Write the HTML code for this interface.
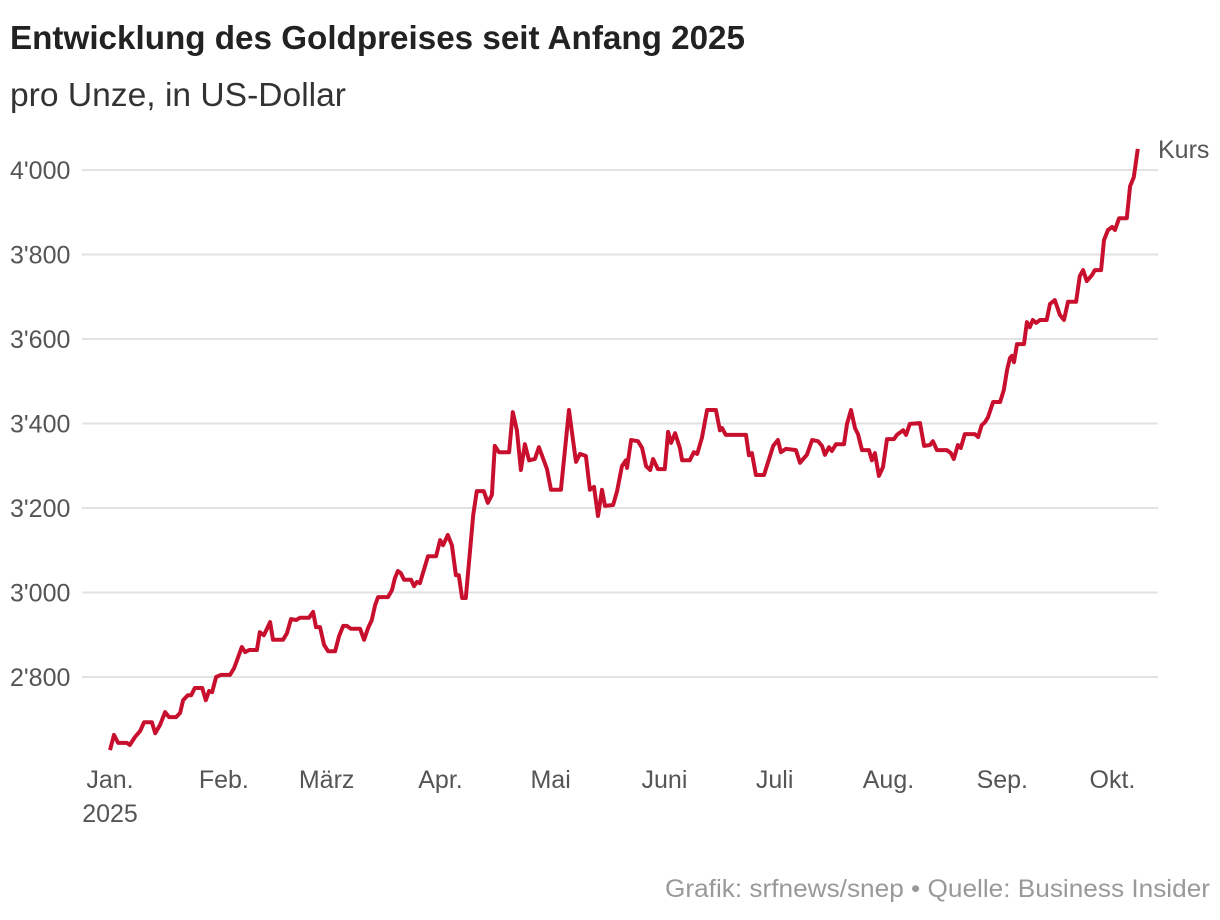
<!DOCTYPE html>
<html><head><meta charset="utf-8"><style>
body{margin:0;background:#fff;font-family:"Liberation Sans",sans-serif;}
svg{display:block}
</style></head><body>
<svg width="1220" height="920" id="chart">
<text x="10" y="49" font-size="33" font-weight="bold" fill="#222" textLength="735" lengthAdjust="spacingAndGlyphs">Entwicklung des Goldpreises seit Anfang 2025</text>
<text x="10" y="106" font-size="33" fill="#333" textLength="336" lengthAdjust="spacingAndGlyphs">pro Unze, in US-Dollar</text>
<g id="grid"></g><g id="ylabels"></g><g id="xlabels"></g>
<path id="line" fill="none" stroke="#c8102e" stroke-width="4" stroke-linejoin="round"/>
<text x="1158" y="158" font-size="25" fill="#555">Kurs</text>
<text x="1210" y="897" font-size="25" fill="#999" text-anchor="end" textLength="545" lengthAdjust="spacingAndGlyphs">Grafik: srfnews/snep • Quelle: Business Insider</text>
</svg>
<script>
const yTicks=[2800,3000,3200,3400,3600,3800,4000];
const yTickLabels=["2'800","3'000","3'200","3'400","3'600","3'800","4'000"];
const monthDays=[0,31,59,90,120,151,181,212,243,273];
const monthLabels=["Jan.","Feb.","März","Apr.","Mai","Juni","Juli","Aug.","Sep.","Okt."];
const days=[0,1.1,2.2,4.6,5.4,6.8,8.2,9.3,11.4,12.3,13.6,15.0,16.1,18.0,19.1,19.9,21.2,22.1,23.1,25.1,26.1,27.0,27.8,28.9,30.2,32.7,33.8,34.6,35.9,36.8,37.9,40.0,40.8,41.9,43.6,44.4,47.1,48.2,49.3,50.7,51.7,54.2,55.3,56.1,57.2,58.3,59.4,61.3,62.4,63.5,64.5,65.6,68.1,69.2,70.3,71.3,72.2,73.0,75.7,76.8,77.6,78.4,79.2,80.1,82.0,82.8,83.6,84.4,85.8,86.6,88.8,89.9,90.7,92.0,93.1,94.2,95.0,95.9,96.9,98.9,99.9,101.8,102.9,104.0,104.8,105.9,108.7,109.7,110.8,111.9,113.0,114.1,115.7,116.8,119.0,120.1,122.8,125.0,126.1,126.9,128.0,129.6,130.7,131.8,132.9,134.0,134.8,137.0,138.1,139.4,140.5,140.8,141.9,143.8,144.9,146.0,147.1,147.9,149.2,151.1,152.0,152.8,153.9,155.2,155.8,157.9,159.0,159.9,161.2,162.6,165.0,166.1,166.7,167.7,170.5,173.2,174.0,174.8,175.9,178.1,180.6,181.9,182.7,184.1,186.8,187.9,189.0,189.8,191.2,192.8,193.9,194.7,195.8,196.6,197.7,199.9,200.7,201.8,202.9,203.7,204.8,206.7,207.5,208.3,209.4,210.5,211.6,213.5,214.3,216.0,216.8,217.8,220.6,221.7,223.3,224.1,225.2,227.9,229.0,229.8,230.9,231.7,232.8,235.5,236.4,237.4,238.3,239.1,240.5,242.4,243.4,244.3,245.1,245.6,246.2,247.0,248.9,249.7,250.5,251.3,252.2,253.3,255.1,256.0,257.3,258.7,259.8,260.9,263.1,264.1,265.0,266.0,267.4,268.2,269.9,270.7,271.8,272.9,273.7,274.8,276.9,277.8,278.8,279.9];
const prices=[2627,2663,2644,2644,2639,2658,2672,2693,2693,2667,2686,2717,2705,2705,2715,2745,2757,2757,2774,2774,2745,2767,2764,2800,2805,2805,2821,2840,2871,2859,2864,2864,2906,2899,2930,2888,2888,2904,2937,2935,2940,2940,2954,2918,2918,2876,2861,2861,2897,2921,2921,2914,2914,2888,2916,2935,2970,2989,2989,3006,3034,3051,3046,3030,3030,3015,3025,3022,3063,3086,3086,3124,3112,3136,3112,3041,3041,2987,2987,3183,3240,3240,3212,3231,3347,3332,3332,3427,3384,3290,3351,3313,3316,3344,3292,3243,3243,3432,3361,3309,3328,3323,3243,3250,3181,3243,3205,3207,3240,3299,3313,3295,3361,3358,3342,3299,3290,3316,3292,3292,3380,3354,3377,3342,3313,3313,3332,3328,3366,3432,3432,3384,3389,3373,3373,3373,3325,3330,3278,3278,3347,3361,3332,3340,3337,3307,3318,3326,3361,3358,3347,3326,3344,3335,3351,3351,3399,3432,3389,3375,3337,3337,3313,3330,3276,3297,3363,3363,3373,3384,3373,3399,3401,3347,3349,3358,3337,3337,3330,3316,3349,3342,3375,3375,3368,3396,3403,3415,3451,3451,3479,3527,3555,3560,3545,3588,3588,3640,3628,3645,3638,3645,3645,3683,3692,3657,3645,3688,3688,3749,3763,3737,3751,3763,3763,3834,3858,3865,3858,3886,3886,3962,3983,4050];
const NS="http://www.w3.org/2000/svg";
const xS=d=>110+d*3.672;
const yS=v=>170+(4000-v)*0.4225;
const grid=document.getElementById('grid'),yl=document.getElementById('ylabels'),xl=document.getElementById('xlabels');
yTicks.forEach((v,i)=>{
 const l=document.createElementNS(NS,'line');
 l.setAttribute('x1',82);l.setAttribute('x2',1158);l.setAttribute('y1',yS(v));l.setAttribute('y2',yS(v));
 l.setAttribute('stroke','#e2e2e2');l.setAttribute('stroke-width','2');
 
 
 grid.appendChild(l);
 const t=document.createElementNS(NS,'text');
 t.setAttribute('x',10);t.setAttribute('y',yS(v)+9);t.setAttribute('font-size','25');t.setAttribute('fill','#555');
 t.textContent=yTickLabels[i];
 
 
 yl.appendChild(t);
});
monthDays.forEach((d,i)=>{
 const t=document.createElementNS(NS,'text');
 t.setAttribute('x',xS(d));t.setAttribute('y',788);t.setAttribute('font-size','25');t.setAttribute('fill','#555');t.setAttribute('text-anchor','middle');
 t.textContent=monthLabels[i];
 
 
 xl.appendChild(t);
});
const yr=document.createElementNS(NS,'text');
yr.setAttribute('x',xS(0));yr.setAttribute('y',822);yr.setAttribute('font-size','25');yr.setAttribute('fill','#555');yr.setAttribute('text-anchor','middle');
yr.textContent='2025';


xl.appendChild(yr);
document.getElementById('line').setAttribute('d',days.map((d,i)=>(i?'L':'M')+xS(d).toFixed(1)+','+yS(prices[i]).toFixed(1)).join(''));
</script>
</body></html>
